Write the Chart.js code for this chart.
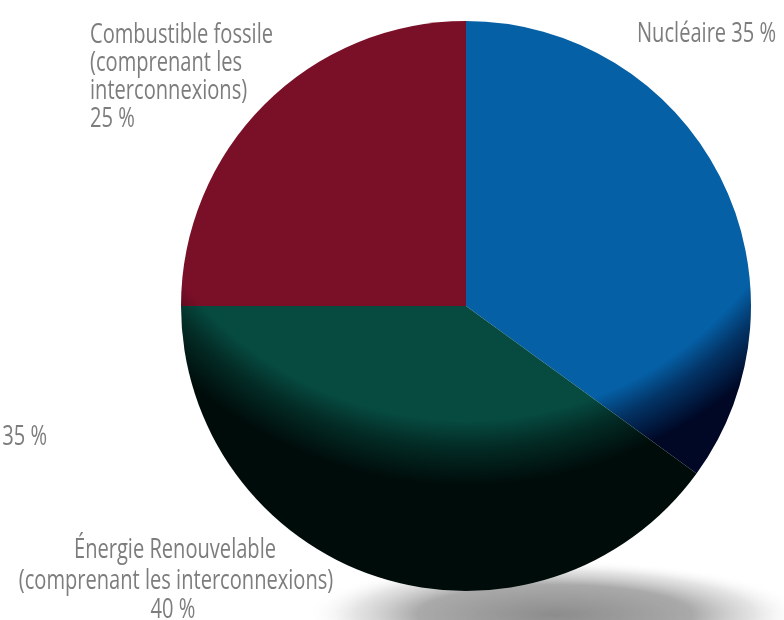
<!DOCTYPE html>
<html>
<head>
<meta charset="utf-8">
<script src="https://cdn.jsdelivr.net/npm/chart.js@4.4.1/dist/chart.umd.min.js"></script>
<style>
  html, body { margin: 0; padding: 0; background: #ffffff; }
  #wrap { width: 784px; height: 620px; position: relative; }
</style>
</head>
<body>
<div id="wrap"><canvas id="c" width="784" height="620"></canvas></div>
<script>
// ---- data ----
const categories = ["Nucléaire", "Énergie Renouvelable", "Combustible fossile"];
const qualifiers = ["", "(comprenant les interconnexions)", "(comprenant les interconnexions)"];
const shares = [35, 40, 25];
const baseColors = [[5, 96, 166], [6, 74, 64], [122, 15, 40]];
const darkColors = [[0, 8, 38], [0, 12, 10], [38, 2, 10]];
const strayFragment = "35 %";

function rgb(a, k) { return `rgb(${Math.round(a[0]*k)},${Math.round(a[1]*k)},${Math.round(a[2]*k)})`; }
function mix(a, b, t) { return [a[0]+(b[0]-a[0])*t, a[1]+(b[1]-a[1])*t, a[2]+(b[2]-a[2])*t]; }

function sliceFill(context) {
  const i = context.dataIndex;
  const chart = context.chart;
  const area = chart.chartArea;
  if (!area) return rgb(baseColors[i], 1);
  const cx = (area.left + area.right) / 2;
  const cy = (area.top + area.bottom) / 2;
  const r = Math.min(area.right - area.left, area.bottom - area.top) / 2;
  const gx = cx, gy = cy - 0.86 * r;
  const R = 1.55 * r;
  const g = chart.ctx.createRadialGradient(gx, gy, 0, gx, gy, R);
  const b = baseColors[i], d = darkColors[i];
  g.addColorStop(0, rgb(b, 1));
  g.addColorStop(0.815, rgb(b, 1));
  g.addColorStop(0.875, rgb(mix(b, d, 0.5), 1));
  g.addColorStop(0.96, rgb(d, 1));
  g.addColorStop(1, rgb(d, 1));
  return g;
}

const shadowPlugin = {
  id: 'shadow',
  beforeDatasetsDraw(chart) {
    const ctx = chart.ctx;
    ctx.save();
    ctx.translate(555, 615);
    ctx.scale(1, 0.22);
    const g = ctx.createRadialGradient(0, 0, 0, 0, 0, 250);
    g.addColorStop(0, 'rgba(140,140,140,1)');
    g.addColorStop(0.55, 'rgba(165,165,165,0.95)');
    g.addColorStop(0.8, 'rgba(210,210,210,0.6)');
    g.addColorStop(1, 'rgba(255,255,255,0)');
    ctx.fillStyle = g;
    ctx.fillRect(-270, -270, 540, 540);
    ctx.restore();
  }
};

const labelPlugin = {
  id: 'labels',
  afterDraw(chart) {
    const ctx = chart.ctx;
    ctx.save();
    ctx.font = '28px "Open Sans", "DejaVu Sans Condensed", sans-serif';
    ctx.fillStyle = '#7d7d7d';
    ctx.textBaseline = 'alphabetic';
    const sx = 183 / ctx.measureText(categories[2]).width;
    function draw(text, x, y, align) {
      const w = ctx.measureText(text).width * sx;
      let left = x;
      if (align === 'center') left = x - w / 2;
      else if (align === 'right') left = x - w;
      ctx.save();
      ctx.translate(left, y);
      ctx.scale(sx, 1);
      ctx.textAlign = 'left';
      ctx.fillText(text, 0, 0);
      ctx.restore();
    }
    // Nucléaire
    draw(categories[0] + " " + shares[0] + " %", 637, 42, 'left');
    // Renouvelable (centered)
    draw(categories[1], 175, 558, 'center');
    draw(qualifiers[1], 176, 589, 'center');
    draw(shares[1] + " %", 173, 618, 'center');
    // Fossile
    const q = qualifiers[2].split(" ");
    draw(categories[2], 90, 43, 'left');
    draw(q[0] + " " + q[1], 90, 71, 'left');
    draw(q[2], 90, 99, 'left');
    draw(shares[2] + " %", 90, 127, 'left');
    // stray fragment at left edge
    draw(strayFragment, 47, 445, 'right');
    ctx.restore();
  }
};

new Chart(document.getElementById('c'), {
  type: 'pie',
  data: {
    labels: categories,
    datasets: [{
      data: shares,
      backgroundColor: sliceFill,
      borderWidth: 0
    }]
  },
  options: {
    responsive: false,
    animation: false,
    layout: { padding: { left: 181, right: 33, top: 21, bottom: 29 } },
    plugins: { legend: { display: false }, tooltip: { enabled: false } }
  },
  plugins: [shadowPlugin, labelPlugin]
});
</script>
</body>
</html>
